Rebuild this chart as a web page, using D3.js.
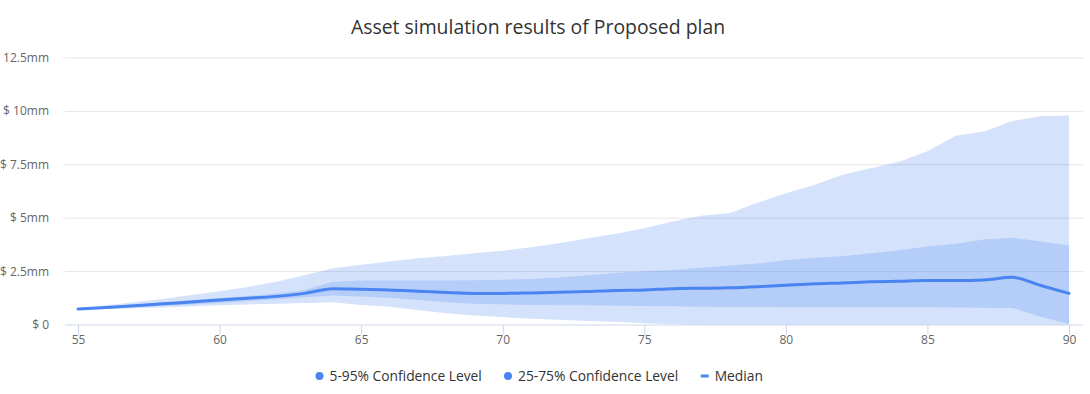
<!DOCTYPE html>
<html>
<head>
<meta charset="utf-8">
<script src="https://cdn.jsdelivr.net/npm/d3@7"></script>
<style>
  body { margin: 0; background: #fff; }
  svg { display: block; font-family: "Open Sans", sans-serif; }
</style>
</head>
<body>
<div id="container"></div>
<script>
/* DATA (values in $ millions) */
const ages = d3.range(55, 91);
const outerLow = [0.72, 0.75, 0.78, 0.82, 0.88, 0.92, 0.96, 0.99, 1.03, 1.06,
  0.94, 0.86, 0.70, 0.55, 0.45, 0.37, 0.29, 0.24, 0.19, 0.15,
  0.08, 0.03, 0, 0, 0, 0, 0, 0, 0, 0, 0, 0, 0, 0, 0, 0];
const outerHigh = [0.78, 0.92, 1.07, 1.22, 1.40, 1.58, 1.78, 2.02, 2.33, 2.66,
  2.82, 2.97, 3.12, 3.23, 3.36, 3.48, 3.64, 3.83, 4.06, 4.27,
  4.53, 4.84, 5.12, 5.23, 5.72, 6.17, 6.56, 7.03, 7.34, 7.64,
  8.13, 8.86, 9.06, 9.55, 9.77, 9.81];
const innerLow = [0.74, 0.79, 0.85, 0.90, 0.96, 1.03, 1.12, 1.20, 1.30, 1.38,
  1.33, 1.28, 1.17, 1.06, 0.99, 0.97, 0.94, 0.93, 0.92, 0.90,
  0.89, 0.88, 0.86, 0.84, 0.84, 0.83, 0.83, 0.83, 0.83, 0.83,
  0.83, 0.82, 0.81, 0.80, 0.39, 0.05];
const innerHigh = [0.76, 0.86, 0.97, 1.07, 1.16, 1.26, 1.36, 1.48, 1.64, 2.03,
  2.08, 2.08, 2.08, 2.08, 2.10, 2.12, 2.15, 2.22, 2.33, 2.44,
  2.52, 2.58, 2.68, 2.77, 2.88, 3.03, 3.15, 3.22, 3.36, 3.50,
  3.68, 3.80, 4.00, 4.08, 3.91, 3.72];
const median = [0.75, 0.82, 0.90, 0.99, 1.08, 1.17, 1.25, 1.34, 1.48, 1.70,
  1.67, 1.64, 1.58, 1.52, 1.48, 1.48, 1.50, 1.53, 1.57, 1.62,
  1.64, 1.70, 1.72, 1.74, 1.79, 1.86, 1.93, 1.97, 2.02, 2.05,
  2.08, 2.08, 2.11, 2.23, 1.85, 1.48];
const yTicks = [0, 2.5, 5, 7.5, 10, 12.5];
const yTickLabels = ["$ 0", "$ 2.5mm", "$ 5mm", "$ 7.5mm", "$ 10mm", "$ 12.5mm"];
const xTicks = [55, 60, 65, 70, 75, 80, 85, 90];
const seriesNames = ["5-95% Confidence Level", "25-75% Confidence Level", "Median"];

const width = 1090, height = 394;
const plot = { left: 65, right: 1083, top: 58, bottom: 325 };
const blue = "#4a84f1";

const rows = ages.map((a, i) => ({
  age: a, oLo: outerLow[i], oHi: outerHigh[i],
  iLo: innerLow[i], iHi: innerHigh[i], med: median[i]
}));

const xScale = d3.scaleLinear().domain([55, 90]).range([78, 1069]);
const yScale = d3.scaleLinear().domain([0, 12.5]).range([plot.bottom, plot.top]);

const svg = d3.select("#container").append("svg")
  .attr("width", width).attr("height", height);

// title
svg.append("text")
  .attr("x", 538).attr("y", 34)
  .attr("text-anchor", "middle")
  .attr("fill", "#333")
  .style("font-size", "19.4px")
  .text("Asset simulation results of Proposed plan");

// gridlines
svg.append("g").selectAll("line")
  .data(yTicks.slice(1))
  .join("line")
  .attr("x1", plot.left).attr("x2", plot.right)
  .attr("y1", d => yScale(d)).attr("y2", d => yScale(d))
  .attr("stroke", "#e6e6e6");

// y labels
svg.append("g").selectAll("text")
  .data(yTicks)
  .join("text")
  .attr("x", 49).attr("y", d => yScale(d) + 4)
  .attr("text-anchor", "end")
  .attr("fill", "#666")
  .style("font-size", "12px")
  .text((d, i) => yTickLabels[i]);

// bands
const outerArea = d3.area()
  .x(d => xScale(d.age)).y0(d => yScale(d.oLo)).y1(d => yScale(d.oHi));
const innerArea = d3.area()
  .x(d => xScale(d.age)).y0(d => yScale(d.iLo)).y1(d => yScale(d.iHi));

svg.append("path").datum(rows)
  .attr("d", outerArea)
  .attr("fill", blue).attr("fill-opacity", 0.24);
svg.append("path").datum(rows)
  .attr("d", innerArea)
  .attr("fill", blue).attr("fill-opacity", 0.22);

// median
const lineGen = d3.line()
  .x(d => xScale(d.age)).y(d => yScale(d.med))
  .curve(d3.curveMonotoneX);
svg.append("path").datum(rows)
  .attr("d", lineGen)
  .attr("fill", "none")
  .attr("stroke", blue)
  .attr("stroke-width", 3)
  .attr("stroke-linejoin", "round")
  .attr("stroke-linecap", "round");

// x axis
const xAxis = d3.axisBottom(xScale)
  .tickValues(xTicks)
  .tickSize(10)
  .tickPadding(0);
const xAxisGroup = svg.append("g")
  .attr("transform", `translate(0, ${plot.bottom})`)
  .call(xAxis);
xAxisGroup.select(".domain").remove();
xAxisGroup.insert("line", ":first-child")
  .attr("x1", plot.left).attr("x2", plot.right)
  .attr("stroke", "#ccd6eb");
xAxisGroup.selectAll(".tick line").attr("stroke", "#ccd6eb");
xAxisGroup.selectAll(".tick text")
  .attr("fill", "#666")
  .style("font-size", "12px")
  .style("font-family", "'Open Sans', sans-serif");

// legend
const legend = svg.append("g").attr("transform", "translate(0, 376)");
const legendX = [319.5, 508, 704.7];
seriesNames.forEach((name, i) => {
  const g = legend.append("g").attr("transform", `translate(${legendX[i]}, 0)`);
  if (i < 2) {
    g.append("circle").attr("cx", 0).attr("cy", 0).attr("r", 4).attr("fill", blue);
  } else {
    g.append("line").attr("x1", -4).attr("x2", 4).attr("y1", 0).attr("y2", 0)
      .attr("stroke", blue).attr("stroke-width", 3);
  }
  g.append("text")
    .attr("x", 10).attr("y", 5)
    .attr("fill", "#333")
    .style("font-size", "13.8px")
    .text(name);
});
</script>
</body>
</html>
